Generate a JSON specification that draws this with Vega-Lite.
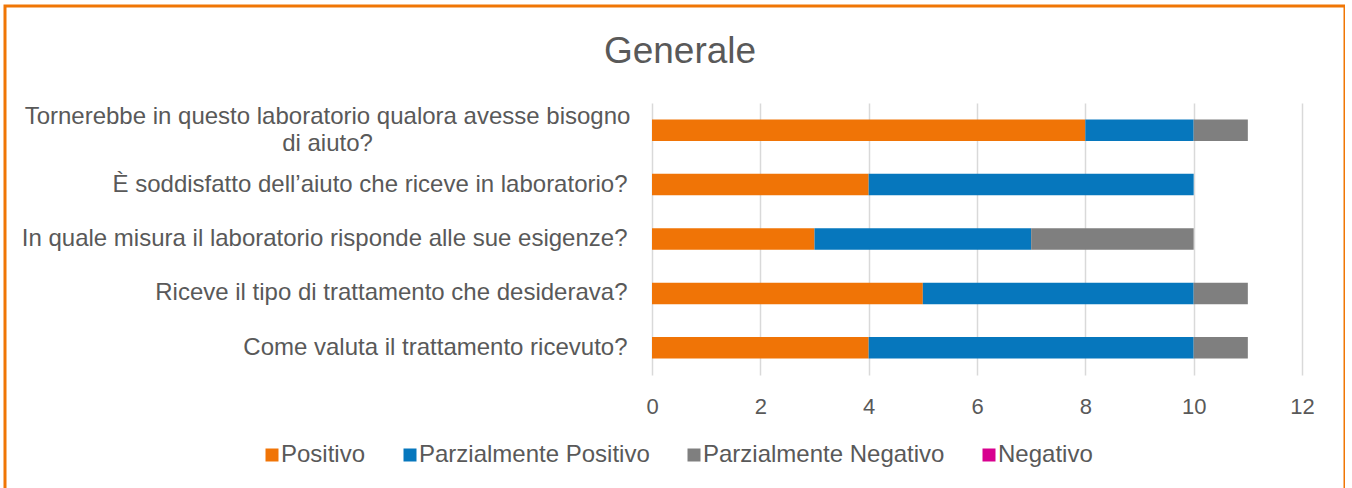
{
  "$schema": "https://vega.github.io/schema/vega-lite/v6.json",
  "width": 1340,
  "height": 484,
  "autosize": {"type": "none"},
  "padding": {"left": 5, "top": 6, "right": 0, "bottom": 0},
  "background": "white",
  "title": {"text": "Generale", "fontSize": 37, "font": "Liberation Sans", "fontWeight": "normal", "color": "#595959", "anchor": "middle", "frame": "group", "offset": -65, "dx": 5},
  "data": {"values": [
    {"domanda": "Tornerebbe in questo laboratorio qualora avesse bisogno\ndi aiuto?", "esito": "Positivo", "n": 8},
    {"domanda": "Tornerebbe in questo laboratorio qualora avesse bisogno\ndi aiuto?", "esito": "Parzialmente Positivo", "n": 2},
    {"domanda": "Tornerebbe in questo laboratorio qualora avesse bisogno\ndi aiuto?", "esito": "Parzialmente Negativo", "n": 1},
    {"domanda": "Tornerebbe in questo laboratorio qualora avesse bisogno\ndi aiuto?", "esito": "Negativo", "n": 0},
    {"domanda": "È soddisfatto dell’aiuto  che riceve in laboratorio?", "esito": "Positivo", "n": 4},
    {"domanda": "È soddisfatto dell’aiuto  che riceve in laboratorio?", "esito": "Parzialmente Positivo", "n": 6},
    {"domanda": "È soddisfatto dell’aiuto  che riceve in laboratorio?", "esito": "Parzialmente Negativo", "n": 0},
    {"domanda": "È soddisfatto dell’aiuto  che riceve in laboratorio?", "esito": "Negativo", "n": 0},
    {"domanda": "In quale misura il laboratorio risponde alle sue esigenze?", "esito": "Positivo", "n": 3},
    {"domanda": "In quale misura il laboratorio risponde alle sue esigenze?", "esito": "Parzialmente Positivo", "n": 4},
    {"domanda": "In quale misura il laboratorio risponde alle sue esigenze?", "esito": "Parzialmente Negativo", "n": 3},
    {"domanda": "In quale misura il laboratorio risponde alle sue esigenze?", "esito": "Negativo", "n": 0},
    {"domanda": "Riceve il tipo di trattamento che desiderava?", "esito": "Positivo", "n": 5},
    {"domanda": "Riceve il tipo di trattamento che desiderava?", "esito": "Parzialmente Positivo", "n": 5},
    {"domanda": "Riceve il tipo di trattamento che desiderava?", "esito": "Parzialmente Negativo", "n": 1},
    {"domanda": "Riceve il tipo di trattamento che desiderava?", "esito": "Negativo", "n": 0},
    {"domanda": "Come valuta il trattamento ricevuto?", "esito": "Positivo", "n": 4},
    {"domanda": "Come valuta il trattamento ricevuto?", "esito": "Parzialmente Positivo", "n": 6},
    {"domanda": "Come valuta il trattamento ricevuto?", "esito": "Parzialmente Negativo", "n": 1},
    {"domanda": "Come valuta il trattamento ricevuto?", "esito": "Negativo", "n": 0}
  ]},
  "mark": {"type": "bar"},
  "encoding": {
    "y": {
      "field": "domanda", "type": "nominal", "sort": null,
      "scale": {"range": [97, 369], "paddingInner": 0.605, "paddingOuter": 0.3025},
      "axis": {
        "title": null, "domain": false, "ticks": false, "grid": false, "offset": -647,
        "labelPadding": {"condition": {"test": "indexof(datum.value, '\\n') >= 0", "value": 325}, "value": 25},
        "labelAlign": {"condition": {"test": "indexof(datum.value, '\\n') >= 0", "value": "center"}, "value": "right"},
        "labelOffset": {"condition": {"test": "indexof(datum.value, '\\n') >= 0", "value": -13.5}, "value": 0},
        "labelFontSize": 24, "labelColor": "#595959", "labelFont": "Liberation Sans", "labelLimit": 800, "labelLineHeight": 27,
        "labelExpr": "split(datum.label, '\\n')"
      }
    },
    "x": {
      "field": "n", "type": "quantitative", "stack": "zero",
      "scale": {"domain": [0, 12], "range": [647, 1297], "nice": false, "zero": true},
      "axis": {"orient": "top", "title": null, "values": [0, 2, 4, 6, 8, 10, 12], "grid": true, "gridColor": "#D9D9D9", "gridWidth": 1.5, "domain": false, "ticks": false, "offset": -412, "labelPadding": 0, "labelFlush": false, "labelFontSize": 22, "labelColor": "#595959", "labelFont": "Liberation Sans"}
    },
    "order": {"field": "esito", "sort": "descending"},
    "color": {
      "field": "esito", "type": "nominal",
      "sort": ["Positivo", "Parzialmente Positivo", "Parzialmente Negativo", "Negativo"],
      "scale": {"domain": ["Positivo", "Parzialmente Positivo", "Parzialmente Negativo", "Negativo"], "range": ["#F07406", "#0677BD", "#7F7F7F", "#D8008F"]},
      "legend": {"orient": "none", "legendX": 255, "legendY": 437, "direction": "horizontal", "title": null, "symbolType": "square", "symbolSize": 169, "symbolStrokeWidth": 0, "labelFontSize": 24, "labelColor": "#595959", "labelFont": "Liberation Sans", "labelOffset": -3, "columnPadding": 32, "labelLimit": 400}
    }
  },
  "config": {"view": {"stroke": "#F07605", "strokeWidth": 3}, "font": "Liberation Sans"}
}
